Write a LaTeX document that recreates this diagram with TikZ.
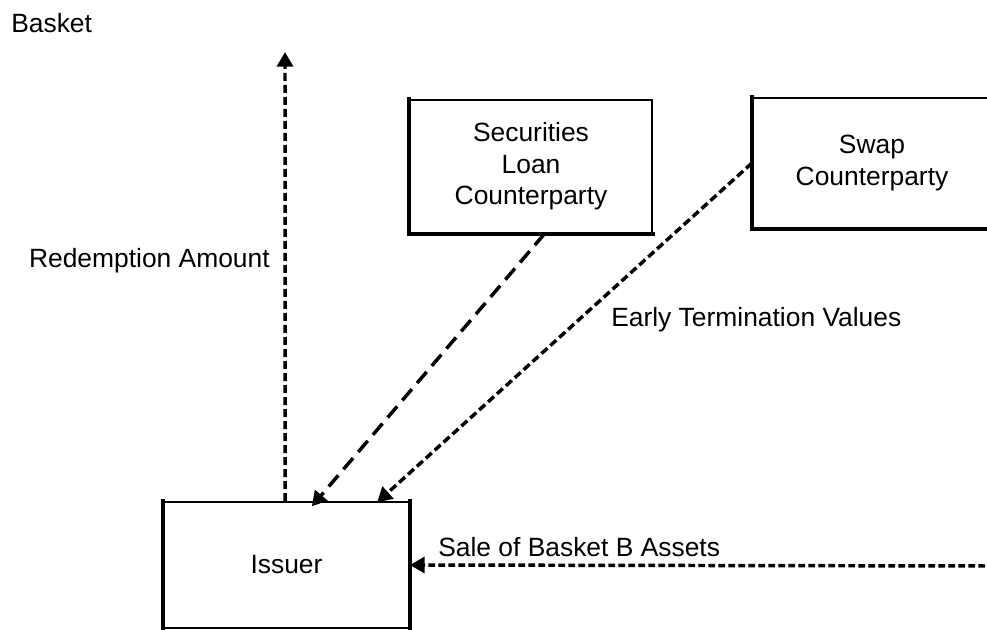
\documentclass[tikz,border=0pt]{standalone}
\usepackage{fontspec}
\setmainfont{Liberation Sans}
\usepackage{tikz}
\usetikzlibrary{arrows.meta}

\tikzset{
  partybox/.style={draw, line width=1.5pt, align=center, inner sep=0pt},
  heavyedge/.style={line width=3.5pt, line cap=rect},
  flow/.style={line width=2.6pt, -{Triangle[width=12pt,length=11pt]}},
  lbl/.style={inner sep=0.75pt}
}

\begin{document}
\begin{tikzpicture}[x=0.75pt,y=0.75pt,yscale=-1,xscale=1,
  font=\fontsize{19.8}{23.5}\selectfont]
\useasboundingbox (0,0) rectangle (987,630);

% Boxes
\node [partybox, minimum width=181.5pt, minimum height=99.75pt] (sec) at (531,166.5) {Securities\\Loan\\Counterparty};
\node [partybox, minimum width=178.5pt, minimum height=97.5pt] (swap) at (872,163) {Swap\\Counterparty};
\node [partybox, minimum width=183.75pt, minimum height=94.5pt] (issuer) at (286.5,565) {Issuer};

% heavy sides
\draw [heavyedge] (sec.north west) -- (sec.south west) -- (sec.south east);
\draw [heavyedge] (swap.north west) -- (swap.south west) -- (swap.south east);
\draw [heavyedge] (issuer.north west) -- (issuer.south west);
\draw [heavyedge] (issuer.north east) -- (issuer.south east);

% free ends
\coordinate (bsk) at (285,52);
\coordinate (saleend) at (995,566);

%Straight Lines
\draw [flow, dash pattern=on 6pt off 3pt] ([xshift=-1pt]issuer.north) -- (bsk);
\draw [flow, dash pattern=on 11pt off 6pt] ([xshift=10pt]sec.south) -- ([xshift=19pt,yshift=4pt]issuer.north);
\draw [flow, dash pattern=on 6pt off 3pt] (swap.west) -- ([xshift=68pt,yshift=1pt]issuer.north);
\draw [flow, dash pattern=on 5pt off 2.5pt] (saleend) -- (issuer.east);

% Text Node
\node [lbl, anchor=west] (tbasket) at (10,23) {Basket};
% Text Node
\node [lbl, anchor=east] (tredeem) at (271,261) {Redemption Amount};
% Text Node
\node [lbl, anchor=west] (tearly) at (610,320) {Early Termination Values};
% Text Node
\node [lbl, anchor=west] (tsale) at (437,547) {Sale of Basket B Assets};

\end{tikzpicture}
\end{document}
